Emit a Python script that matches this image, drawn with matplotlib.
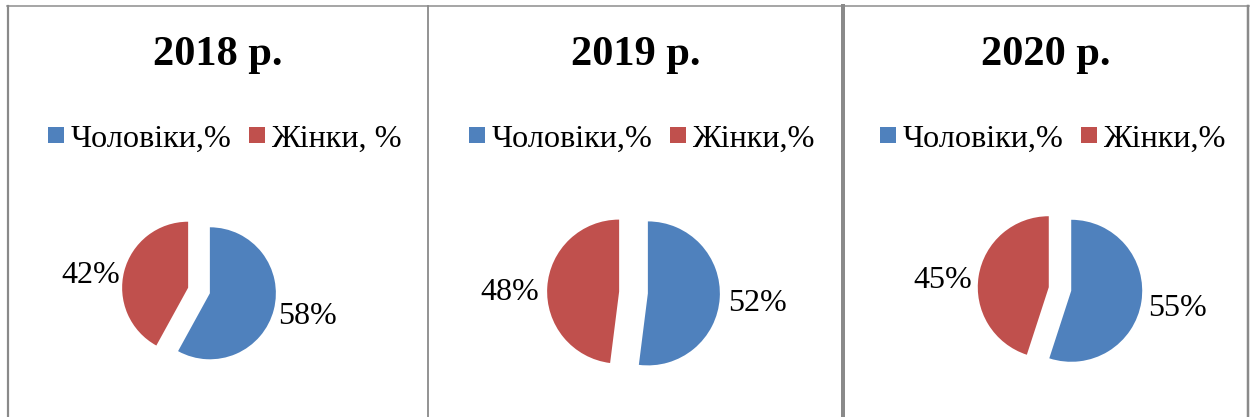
import matplotlib
matplotlib.use("Agg")
import matplotlib.pyplot as plt
from matplotlib.lines import Line2D

plt.rcParams['font.family'] = ['Liberation Serif', 'DejaVu Serif']

years = ["2018 р.", "2019 р.", "2020 р."]
men_pct = [58, 52, 55]
women_pct = [42, 48, 45]
legend_labels = [
    ["Чоловіки,%", "Жінки, %"],
    ["Чоловіки,%", "Жінки,%"],
    ["Чоловіки,%", "Жінки,%"],
]

BLUE = "#4F81BD"
RED = "#C0504D"
GRID = "#8a8a8a"

W, H = 1250, 417
fig = plt.figure(figsize=(W / 100, H / 100), dpi=100)
fig.patch.set_facecolor("white")


def fx(px):
    return px / W


def fy(py):
    return 1 - py / H


# table frame
def vline(x, lw):
    fig.add_artist(Line2D([fx(x), fx(x)], [fy(6), fy(H + 2)], color=GRID,
                          lw=lw * 0.72, transform=fig.transFigure))


fig.add_artist(Line2D([fx(7), fx(1249)], [fy(6), fy(6)], color=GRID,
                      lw=1.5 * 0.72, transform=fig.transFigure))
vline(8, 2.2)
vline(428, 1.8)
vline(843, 4.0)
vline(1248, 2.5)

# per-panel geometry (pixels)
panel_cx = [218, 636, 1046]
pie_centers = [(199, 290.5), (633.5, 292.5), (1060, 289)]
pie_radius = [66, 72, 71]
explode_amt = [0.17, 0.2, 0.16]
label_dist = [1.07, 1.11, 1.09]
legend_cx = [225, 642, 1053]
label_drop_px = 5.5

for i in range(3):
    # title
    fig.text(fx(panel_cx[i]), fy(55), years[i], ha="center", va="center",
             fontsize=30.5, fontweight="bold", color="black")

    cx, cy = pie_centers[i]
    R = pie_radius[i]
    half = 140
    ax = fig.add_axes([fx(cx - half), fy(cy + half), 2 * half / W, 2 * half / H])
    vals = [men_pct[i], women_pct[i]]
    wedges, texts = ax.pie(
        vals,
        labels=[f"{v}%" for v in vals],
        startangle=90,
        counterclock=False,
        colors=[BLUE, RED],
        explode=[explode_amt[i], explode_amt[i]],
        labeldistance=label_dist[i],
        wedgeprops=dict(linewidth=0),
        textprops=dict(fontsize=23, color="black"),
    )
    # centre the digits (not the descender box) on the label point
    for t in texts:
        x0, y0 = t.get_position()
        t.set_position((x0, y0 - label_drop_px / R))
    lim = half / R
    ax.set_xlim(-lim, lim)
    ax.set_ylim(-lim, lim)
    ax.set_aspect("equal")
    ax.axis("off")

    handles = [
        Line2D([], [], ls="none", marker="s", markersize=11.5,
               markerfacecolor=BLUE, markeredgewidth=0),
        Line2D([], [], ls="none", marker="s", markersize=11.5,
               markerfacecolor=RED, markeredgewidth=0),
    ]
    fig.legend(handles, legend_labels[i], loc="center",
               bbox_to_anchor=(fx(legend_cx[i]), fy(139)),
               ncol=2, frameon=False, fontsize=23.2,
               handlelength=0.5, handletextpad=0.2, columnspacing=0.52,
               borderpad=0, borderaxespad=0)

fig.savefig("out.png", dpi=100, facecolor="white")
